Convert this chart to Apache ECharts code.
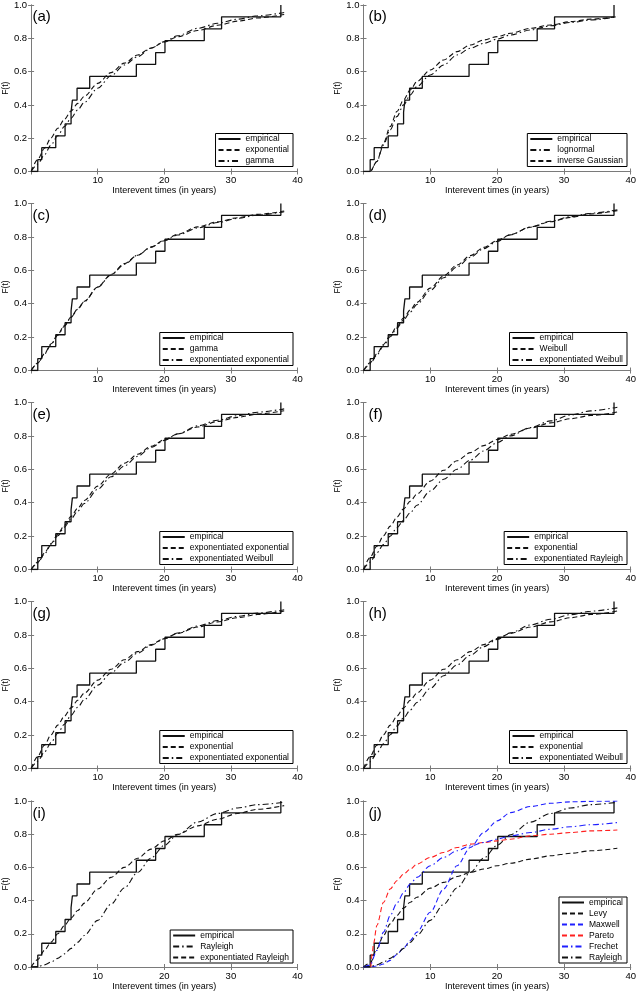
<!DOCTYPE html>
<html><head><meta charset="utf-8">
<script src="https://cdn.jsdelivr.net/npm/echarts@6.0.0/dist/echarts.min.js"></script>
<style>html,body{margin:0;padding:0;background:#fff}#c{width:639px;height:992px}</style>
</head><body><div id="c"></div><script>
// ---------- data ----------
const X_TICK_LABELS = ['10','20','30','40'];
const Y_TICK_LABELS = ['0.0','0.2','0.4','0.6','0.8','1.0'];
// empirical CDF: jump positions (years) and levels
const EMP_X = [0, 1.0, 1.6, 3.7, 5.1, 6.0, 6.2, 6.9, 8.8, 15.8, 18.7, 20.1, 26.0, 28.6, 37.5];
const EMP_F = [0, 0.071, 0.143, 0.214, 0.286, 0.357, 0.429, 0.5, 0.571, 0.643, 0.714, 0.786, 0.857, 0.929, 1.0];
// x positions at which fitted curves were read
const CURVE_X = [0, 1, 2, 3, 4, 5, 6, 7, 8, 10, 12, 14, 16, 18, 20, 22, 25, 28, 31, 34, 38];
const EXPONENTIAL = [0, 0.072, 0.140, 0.202, 0.260, 0.313, 0.363, 0.409, 0.452, 0.529, 0.594, 0.651, 0.700, 0.742, 0.778, 0.809, 0.847, 0.878, 0.903, 0.922, 0.943];
const GAMMA = [0, 0.045, 0.10, 0.16, 0.215, 0.27, 0.32, 0.37, 0.415, 0.50, 0.575, 0.64, 0.69, 0.74, 0.78, 0.815, 0.86, 0.89, 0.915, 0.935, 0.955];
const LOGNORMAL = [0, 0, 0.06, 0.16, 0.25, 0.33, 0.40, 0.46, 0.51, 0.58, 0.64, 0.70, 0.74, 0.77, 0.795, 0.82, 0.85, 0.875, 0.895, 0.91, 0.93];
const INV_GAUSSIAN = [0, 0, 0.06, 0.17, 0.27, 0.36, 0.43, 0.49, 0.54, 0.61, 0.67, 0.72, 0.76, 0.79, 0.81, 0.83, 0.86, 0.88, 0.90, 0.915, 0.93];
const EXP_EXPONENTIAL = [0, 0.044, 0.098, 0.155, 0.211, 0.265, 0.318, 0.367, 0.413, 0.499, 0.572, 0.636, 0.690, 0.737, 0.777, 0.811, 0.853, 0.886, 0.911, 0.931, 0.951];
const WEIBULL = [0, 0.047, 0.10, 0.156, 0.21, 0.264, 0.314, 0.363, 0.408, 0.493, 0.567, 0.632, 0.688, 0.737, 0.778, 0.814, 0.858, 0.891, 0.917, 0.938, 0.957];
const EXP_WEIBULL = [0, 0.04, 0.093, 0.148, 0.202, 0.254, 0.303, 0.35, 0.395, 0.48, 0.555, 0.62, 0.678, 0.73, 0.773, 0.812, 0.86, 0.894, 0.921, 0.942, 0.962];
const EXP_RAYLEIGH = [0, 0.045, 0.10, 0.15, 0.20, 0.25, 0.295, 0.34, 0.385, 0.47, 0.54, 0.60, 0.655, 0.71, 0.76, 0.80, 0.85, 0.89, 0.925, 0.95, 0.972];
const RAYLEIGH = [0, 0.003, 0.013, 0.03, 0.052, 0.079, 0.112, 0.149, 0.19, 0.281, 0.378, 0.476, 0.570, 0.656, 0.733, 0.797, 0.873, 0.925, 0.958, 0.978, 0.992];
const LEVY = [0, 0.024, 0.11, 0.19, 0.26, 0.31, 0.355, 0.39, 0.42, 0.475, 0.51, 0.545, 0.57, 0.59, 0.61, 0.625, 0.65, 0.67, 0.685, 0.70, 0.715];
const MAXWELL = [0, 0.001, 0.006, 0.018, 0.04, 0.075, 0.115, 0.16, 0.21, 0.33, 0.47, 0.61, 0.72, 0.81, 0.88, 0.93, 0.967, 0.986, 0.995, 0.998, 1.0];
const FRECHET = [0, 0.012, 0.10, 0.21, 0.31, 0.385, 0.448, 0.50, 0.54, 0.61, 0.66, 0.70, 0.73, 0.75, 0.77, 0.79, 0.81, 0.83, 0.845, 0.857, 0.87];
const PARETO_X = [1.1, 1.3, 1.5, 2, 3, 4, 5, 6, 7, 8, 10, 12, 14, 16, 18, 20, 22, 25, 28, 31, 34, 38];
const PARETO = [0, 0.08, 0.14, 0.25, 0.39, 0.47, 0.52, 0.56, 0.59, 0.62, 0.66, 0.69, 0.72, 0.74, 0.75, 0.76, 0.77, 0.79, 0.80, 0.81, 0.82, 0.825];

// ---------- styles ----------
const DASH = [5, 3];
const DASHDOT = [6, 3, 1.5, 3];
const BLACK = '#111', BLUE = '#1f1fff', RED = '#ff2020';

// panel definitions
const PANELS = [
  {label:'(a)', curves:[['exponential', CURVE_X, EXPONENTIAL, DASH, BLACK], ['gamma', CURVE_X, GAMMA, DASHDOT, BLACK]]},
  {label:'(b)', curves:[['lognormal', CURVE_X, LOGNORMAL, DASHDOT, BLACK], ['inverse Gaussian', CURVE_X, INV_GAUSSIAN, DASH, BLACK]]},
  {label:'(c)', curves:[['gamma', CURVE_X, GAMMA, DASH, BLACK], ['exponentiated exponential', CURVE_X, EXP_EXPONENTIAL, DASHDOT, BLACK]]},
  {label:'(d)', curves:[['Weibull', CURVE_X, WEIBULL, DASH, BLACK], ['exponentiated Weibull', CURVE_X, EXP_WEIBULL, DASHDOT, BLACK]]},
  {label:'(e)', curves:[['exponentiated exponential', CURVE_X, EXP_EXPONENTIAL, DASH, BLACK], ['exponentiated Weibull', CURVE_X, EXP_WEIBULL, DASHDOT, BLACK]]},
  {label:'(f)', curves:[['exponential', CURVE_X, EXPONENTIAL, DASH, BLACK], ['exponentiated Rayleigh', CURVE_X, EXP_RAYLEIGH, DASHDOT, BLACK]]},
  {label:'(g)', curves:[['exponential', CURVE_X, EXPONENTIAL, DASH, BLACK], ['exponentiated exponential', CURVE_X, EXP_EXPONENTIAL, DASHDOT, BLACK]]},
  {label:'(h)', curves:[['exponential', CURVE_X, EXPONENTIAL, DASH, BLACK], ['exponentiated Weibull', CURVE_X, EXP_WEIBULL, DASHDOT, BLACK]]},
  {label:'(i)', curves:[['Rayleigh', CURVE_X, RAYLEIGH, DASHDOT, BLACK], ['exponentiated Rayleigh', CURVE_X, EXP_RAYLEIGH, DASH, BLACK]]},
  {label:'(j)', curves:[['Levy', CURVE_X, LEVY, DASH, BLACK], ['Maxwell', CURVE_X, MAXWELL, DASH, BLUE], ['Pareto', PARETO_X, PARETO, DASH, RED], ['Frechet', CURVE_X, FRECHET, DASHDOT, BLUE], ['Rayleigh', CURVE_X, RAYLEIGH, DASHDOT, BLACK]]}
];

// ---------- layout ----------
const W = 639, H = 992;
const COL_LEFT = [27.5, 363.5], COL_W = [270, 268];
const ROW_TOP = [4.5, 203.5, 402.5, 601.5, 801];
const PH = 167;
const FONT = 'Liberation Sans, Arial, sans-serif';
const AXC = '#7a7a7a';

const option = {animation:false, grid:[], xAxis:[], yAxis:[], series:[], legend:[], graphic:[]};
PANELS.forEach((p, i) => {
  const col = i % 2, row = Math.floor(i / 2);
  const left = COL_LEFT[col], top = ROW_TOP[row], w = COL_W[col];
  option.grid.push({left:left, top:top, width:w, height:PH, show:false, containLabel:false});
  const tick = {show:true, inside:true, length:3, lineStyle:{color:AXC, width:1}};
  const line = {show:true, lineStyle:{color:AXC, width:1}};
  option.xAxis.push({type:'value', gridIndex:i, position:'bottom', min:0, max:40, interval:10,
    axisLine:line, axisTick:tick, splitLine:{show:false},
    axisLabel:{color:'#000', fontSize:9.5, fontFamily:FONT, margin:4,
      formatter:v => { const k = X_TICK_LABELS.indexOf(String(v)); return k >= 0 ? X_TICK_LABELS[k] : ''; }},
    name:'Interevent times (in years)', nameLocation:'middle', nameGap:15,
    nameTextStyle:{color:'#000', fontSize:9, fontFamily:FONT}});
  option.xAxis.push({type:'value', gridIndex:i, position:'top', min:0, max:40, interval:10,
    axisLine:line, axisTick:tick, splitLine:{show:false}, axisLabel:{show:false}});
  option.yAxis.push({type:'value', gridIndex:i, position:'left', min:0, max:1, interval:0.2,
    axisLine:line, axisTick:tick, splitLine:{show:false},
    axisLabel:{color:'#000', fontSize:9.5, fontFamily:FONT, margin:4,
      formatter:v => Y_TICK_LABELS[Math.round(v * 5)]},
    name:'F(t)', nameLocation:'middle', nameGap:18,
    nameTextStyle:{color:'#000', fontSize:8.5, fontFamily:FONT}});
  option.yAxis.push({type:'value', gridIndex:i, position:'right', min:0, max:1, interval:0.2,
    axisLine:line, axisTick:tick, splitLine:{show:false}, axisLabel:{show:false}});

  const names = [];
  const empName = 'empirical|' + i;
  names.push(empName);
  option.series.push({name:empName, type:'line', xAxisIndex:2*i, yAxisIndex:2*i, step:'end',
    symbol:'none', data:EMP_X.map((x, k) => [x, EMP_F[k]]),
    lineStyle:{color:BLACK, width:1.3, type:'solid'}, itemStyle:{color:BLACK}, z:3});
  p.curves.forEach(c => {
    const nm = c[0] + '|' + i;
    names.push(nm);
    option.series.push({name:nm, type:'line', xAxisIndex:2*i, yAxisIndex:2*i,
      symbol:'none', smooth:0.3, smoothMonotone:'x',
      data:c[1].map((x, k) => [x, c[2][k]]),
      lineStyle:{color:c[4], width:1.1, type:c[3]}, itemStyle:{color:c[4]}, z:4});
  });
  option.legend.push({show:true, orient:'vertical', selectedMode:false,
    right: W - (left + w - 4.5), bottom: H - (top + PH - 5),
    data:names, formatter:n => n.split('|')[0],
    itemWidth:22, itemHeight:10, itemGap:2, itemTextGap:2,
    itemStyle:{opacity:0, color:'rgba(0,0,0,0)', borderWidth:0},
    padding:[1, 4, 1, 2], borderColor:'#000', borderWidth:1, backgroundColor:'#fff',
    textStyle:{color:'#000', fontSize:8.5, fontFamily:FONT}});
  option.graphic.push({type:'text', left:left + 5, top:top + 5, z:10,
    style:{text:p.label, fontSize:15, fill:'#000', fontFamily:FONT}});
});

const chart = echarts.init(document.getElementById('c'), null, {renderer:'canvas'});
chart.setOption(option);
</script></body></html>
